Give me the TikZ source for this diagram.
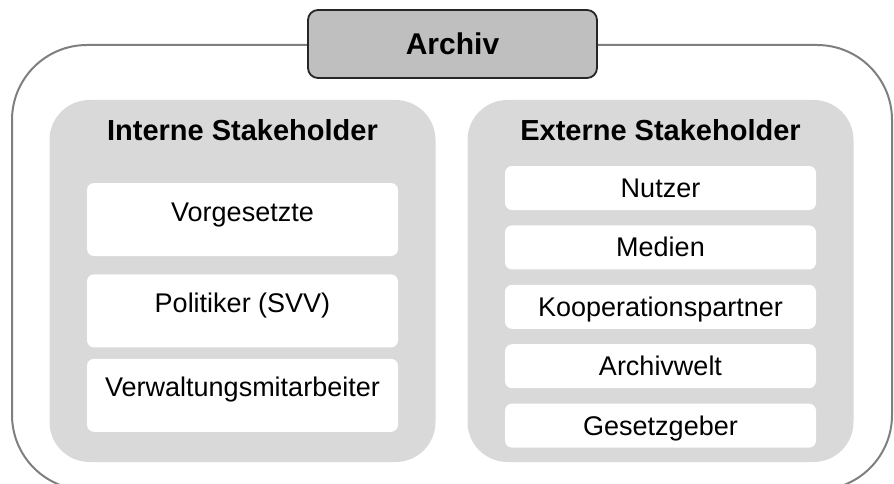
\documentclass[tikz,border=0pt]{standalone}
\usepackage{fontspec}
\setmainfont{Liberation Sans}
\usetikzlibrary{positioning}
\definecolor{framegray}{HTML}{7F7F7F}
\definecolor{titlegray}{HTML}{BFBFBF}
\definecolor{panelgray}{HTML}{D9D9D9}

\begin{document}
\begin{tikzpicture}[x=1pt,y=-1pt,node distance=15pt,
  group node/.style={fill=panelgray,rounded corners=40pt,minimum width=386pt,minimum height=362pt,inner sep=0pt},
  head node/.style={anchor=base,font=\fontsize{29}{34}\selectfont\bfseries},
  main node/.style={fill=white,rounded corners=7pt,minimum width=311pt,inner sep=0pt,text height=19pt,font=\fontsize{27}{32}\selectfont},
  title node/.style={draw=black!85,fill=titlegray,line width=1.8pt,rounded corners=10pt,minimum width=289pt,minimum height=68pt,inner sep=0pt,text height=21pt,text depth=0pt,font=\fontsize{30}{36}\selectfont\bfseries}]

  \useasboundingbox (0,0) rectangle (894,484);
  \draw[framegray,line width=2pt,rounded corners=75pt] (12,45) rectangle (892,490);
  \node[title node] (archiv) at (452.5,44) {Archiv};

  \node[group node] (intern) at (242.5,281) {};
  \node[group node] (extern) at (660.5,281) {};
  \node[head node] (internhead) at (242.5,140) {Interne Stakeholder};
  \node[head node] (externhead) at (660.5,140) {Externe Stakeholder};

  % interne
  \node[main node,minimum height=73pt,text depth=16pt] (v1) at (242.5,219.5) {Vorgesetzte};
  \node[main node,minimum height=73pt,text depth=16pt] (v2) [below=18pt of v1] {Politiker (SVV)};
  \node[main node,minimum height=73pt,text depth=16pt] (v3) [below=11pt of v2] {Verwaltungsmitarbeiter};

  % externe
  \node[main node,minimum height=44pt,text depth=0pt] (e1) at (660.5,188) {Nutzer};
  \node[main node,minimum height=44pt,text depth=0pt] (e2) [below=of e1] {Medien};
  \node[main node,minimum height=44pt,text depth=0pt] (e3) [below=of e2] {Kooperationspartner};
  \node[main node,minimum height=44pt,text depth=0pt] (e4) [below=of e3] {Archivwelt};
  \node[main node,minimum height=44pt,text depth=0pt] (e5) [below=of e4] {Gesetzgeber};
\end{tikzpicture}
\end{document}
